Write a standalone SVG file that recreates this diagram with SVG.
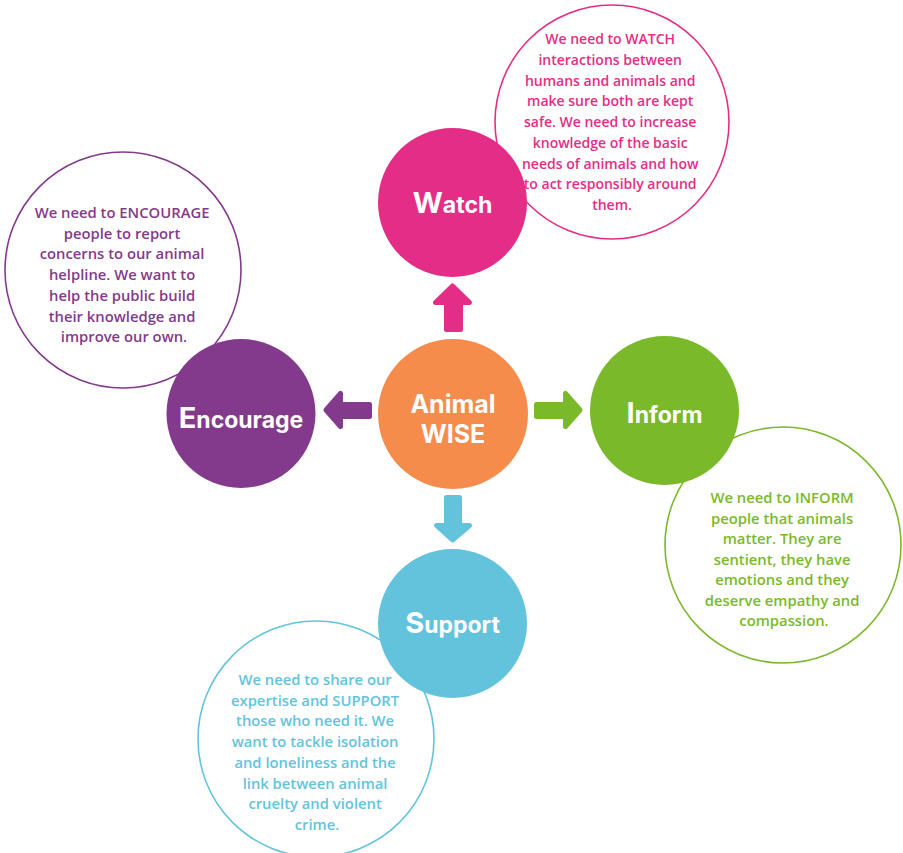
<svg xmlns="http://www.w3.org/2000/svg" width="903" height="853" viewBox="0 0 903 853">
<style>
.bubble{fill:#ffffff;stroke-width:1.6}
.btxt{font-family:"Open Sans","Liberation Sans",sans-serif;font-weight:600;font-size:14.8px;text-anchor:middle}
.w{font-size:14px}
.lbl{font-family:Inter,"Liberation Sans",sans-serif;font-weight:700;fill:#ffffff;text-anchor:middle;font-size:23px}
.big{font-size:29px}
.arrow{stroke-width:5;stroke-linejoin:round}
</style>
<rect width="903" height="853" fill="#ffffff"/>
<g id="watch">
<circle class="bubble" cx="612" cy="122" r="117" stroke="#E42D86"/>
<text class="btxt w" fill="#E42D86" y="44">
<tspan x="612">We need to WATCH</tspan>
<tspan x="612" dy="20.75">interactions between</tspan>
<tspan x="612" dy="20.75">humans and animals and</tspan>
<tspan x="612" dy="20.75">make sure both are kept</tspan>
<tspan x="612" dy="20.75">safe. We need to increase</tspan>
<tspan x="612" dy="20.75">knowledge of the basic</tspan>
<tspan x="612" dy="20.75">needs of animals and how</tspan>
<tspan x="612" dy="20.75">to act responsibly around</tspan>
<tspan x="612" dy="20.75">them.</tspan>
</text>
<circle cx="452.5" cy="202.5" r="74.5" fill="#E42D86"/>
<text class="lbl" x="452.5" y="213"><tspan class="big">W</tspan>atch</text>
</g>
<g id="encourage">
<circle class="bubble" cx="123" cy="270" r="118" stroke="#843A8C"/>
<text class="btxt" fill="#843A8C" y="218">
<tspan x="124">We need to ENCOURAGE</tspan>
<tspan x="124" dy="20.7">people to report</tspan>
<tspan x="124" dy="20.7">concerns to our animal</tspan>
<tspan x="124" dy="20.7">helpline. We want to</tspan>
<tspan x="124" dy="20.7">help the public build</tspan>
<tspan x="124" dy="20.7">their knowledge and</tspan>
<tspan x="124" dy="20.7">improve our own.</tspan>
</text>
<circle cx="241" cy="413.5" r="74.5" fill="#843A8C"/>
<text class="lbl" x="241" y="428"><tspan class="big">E</tspan>ncourage</text>
</g>
<g id="inform">
<circle class="bubble" cx="783" cy="545" r="118" stroke="#7AB92A"/>
<text class="btxt" fill="#7AB92A" y="503">
<tspan x="784">We need to INFORM</tspan>
<tspan x="784" dy="20.5">people that animals</tspan>
<tspan x="784" dy="20.5">matter. They are</tspan>
<tspan x="784" dy="20.5">sentient, they have</tspan>
<tspan x="784" dy="20.5">emotions and they</tspan>
<tspan x="784" dy="20.5">deserve empathy and</tspan>
<tspan x="784" dy="20.5">compassion.</tspan>
</text>
<circle cx="664.5" cy="410.5" r="74.5" fill="#7AB92A"/>
<text class="lbl" x="664.5" y="423"><tspan class="big">I</tspan>nform</text>
</g>
<g id="support">
<circle class="bubble" cx="316" cy="739" r="118" stroke="#63C3DD"/>
<text class="btxt" fill="#63C3DD" y="685">
<tspan x="317">We need to share our</tspan>
<tspan x="317" dy="20.7">expertise and SUPPORT</tspan>
<tspan x="317" dy="20.7">those who need it. We</tspan>
<tspan x="317" dy="20.7">want to tackle isolation</tspan>
<tspan x="317" dy="20.7">and loneliness and the</tspan>
<tspan x="317" dy="20.7">link between animal</tspan>
<tspan x="317" dy="20.7">cruelty and violent</tspan>
<tspan x="317" dy="20.7">crime.</tspan>
</text>
<circle cx="452.5" cy="623.5" r="74.5" fill="#63C3DD"/>
<text class="lbl" x="452.5" y="633"><tspan class="big">S</tspan>upport</text>
</g>
<g id="center">
<circle cx="453" cy="414" r="75" fill="#F58C4C"/>
<text class="lbl" x="453" y="413" style="font-size:25px">Animal</text>
<text class="lbl" x="453" y="443" style="font-size:25px">WISE</text>
</g>
<g id="connectors">
<path class="arrow" fill="#E42D86" stroke="#E42D86" d="M452.5,286 L469.5,302.5 L460.5,302.5 L460.5,329.5 L446.5,329.5 L446.5,302.5 L435.5,302.5 Z"/>
<path class="arrow" fill="#843A8C" stroke="#843A8C" d="M326,410 L340.5,393.5 L340.5,404.5 L369.5,404.5 L369.5,416.5 L340.5,416.5 L340.5,426.5 Z"/>
<path class="arrow" fill="#7AB92A" stroke="#7AB92A" d="M580,410 L565.5,393.5 L565.5,404.5 L536.5,404.5 L536.5,416.5 L565.5,416.5 L565.5,426.5 Z"/>
<path class="arrow" fill="#63C3DD" stroke="#63C3DD" d="M452.5,540 L469.5,525.5 L459.5,525.5 L459.5,497.5 L446.5,497.5 L446.5,525.5 L436.5,525.5 Z"/>
</g>
</svg>
